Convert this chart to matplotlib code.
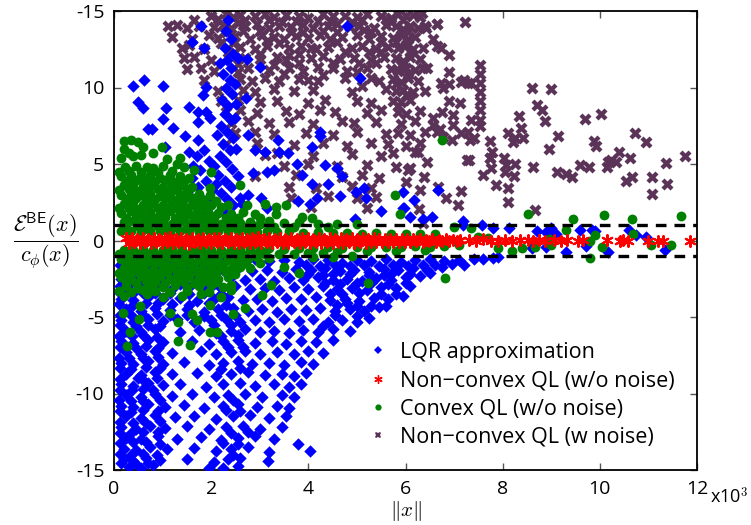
import numpy as np
import matplotlib
matplotlib.use("Agg")
import matplotlib.pyplot as plt
from matplotlib.ticker import FixedLocator, FixedFormatter
from matplotlib.lines import Line2D

plt.rcParams['font.family'] = ['Open Sans', 'DejaVu Sans']
plt.rcParams['mathtext.fontset'] = 'cm'

# ---------------- data (x in thousands) ----------------
legend_labels = ["LQR approximation", "Non\u2212convex QL (w/o noise)",
                 "Convex QL (w/o noise)", "Non\u2212convex QL (w noise)"]
x_ticks = [0, 2, 4, 6, 8, 10, 12]
x_tick_labels = ["0", "2", "4", "6", "8", "10", "12"]
y_ticks = [-15, -10, -5, 0, 5, 10, 15]
y_tick_labels = ["-15", "-10", "-5", "0", "5", "10", "-15"]
band_levels = [-1, 1]

noise_pts = [
    (2.0,14.7),(2.3,14.8),(2.45,14.6),(2.6,14.75),(2.9,14.65),(3.1,14.8),(3.3,14.6),(3.55,14.75),(3.8,14.7),(4.0,14.55),
    (4.3,14.8),(4.5,14.65),(4.75,14.7),(5.0,14.6),(5.2,14.8),(5.5,14.7),(5.7,14.55),(5.85,14.8),(6.0,14.65),(6.15,14.75),(6.3,14.6),
    (1.12,14.0),(1.3,14.1),(1.5,13.9),(1.75,14.05),(2.05,13.95),(2.25,14.1),(2.4,13.9),(2.7,14.0),(2.95,14.15),(3.2,13.9),
    (3.4,14.05),(3.65,13.95),(3.9,14.1),(4.1,13.9),(4.4,14.0),(4.6,14.15),(4.85,13.95),(5.05,14.05),(5.35,13.9),(5.6,14.1),
    (5.8,14.0),(5.95,13.85),(6.1,14.05),(6.25,13.9),(6.4,14.0),(6.65,14.15),
    (1.2,13.3),(1.6,13.2),(1.95,13.4),(2.15,13.25),(2.5,13.35),(2.8,13.2),(3.05,13.4),(3.3,13.3),(3.5,13.15),(3.75,13.35),
    (4.0,13.25),(4.25,13.4),(4.45,13.2),(4.7,13.3),(5.0,13.45),(5.25,13.2),(5.5,13.35),(5.75,13.25),(5.9,13.4),(6.05,13.2),
    (6.2,13.3),(6.57,13.2),
    (1.4,12.6),(1.55,12.8),(1.85,12.5),(2.6,12.65),(2.9,12.5),(3.15,12.7),(3.6,12.55),(3.85,12.7),(4.15,12.5),(4.4,12.65),
    (4.9,12.55),(5.1,12.7),(5.4,12.5),(5.65,12.65),(5.85,12.55),(6.0,12.75),(6.15,12.5),(6.35,12.6),(6.74,12.56),(6.64,12.7),
    (1.45,11.9),(1.65,12.0),(2.0,11.8),(2.7,11.95),(3.0,11.85),(3.35,12.0),(3.55,11.8),(4.05,11.9),(4.3,12.05),(4.65,11.85),
    (4.95,11.95),(5.3,11.8),(5.55,12.0),(5.8,11.9),(5.95,11.75),(6.1,12.0),(6.3,11.85),(6.9,12.1),
    (1.5,11.2),(1.8,11.3),(2.05,11.1),(2.75,11.25),(3.2,11.15),(3.6,11.3),(3.9,11.1),(4.5,11.25),(4.8,11.1),(5.2,11.3),
    (5.7,11.2),(5.85,11.05),(6.0,11.3),(6.2,11.15),(6.45,11.25),(6.9,11.0),(7.53,11.5),(7.53,10.9),
    (1.85,10.5),(2.6,10.55),(2.85,10.4),(3.1,10.6),(3.4,10.45),(3.8,10.55),(4.2,10.4),(4.75,10.6),(5.45,10.45),(5.75,10.55),
    (5.9,10.35),(6.05,10.6),(6.25,10.45),(6.74,10.3),(7.14,10.38),(7.21,10.5),(7.29,10.27),(7.35,10.3),(7.53,10.3),(6.9,10.2),
    (2.15,9.8),(2.65,9.85),(2.9,9.7),(3.3,9.9),(3.7,9.75),(4.1,9.85),(4.9,9.7),(5.6,9.9),(5.8,9.75),(5.95,9.85),
    (6.15,9.7),(6.4,9.8),(6.78,9.95),(7.53,9.7),
    (2.2,9.1),(2.55,9.2),(3.0,9.05),(3.35,9.15),(4.0,9.0),(4.35,9.2),(5.0,9.1),(5.3,9.0),(5.75,9.15),(5.9,9.05),
    (6.1,9.2),(6.9,9.1),(7.12,8.97),(7.53,9.1),
    (2.3,8.4),(2.6,8.5),(2.95,8.35),(3.55,8.45),(3.8,8.3),(4.25,8.5),(4.55,8.4),(5.2,8.35),(5.5,8.5),(5.85,8.4),
    (6.0,8.25),(6.3,8.45),(6.76,8.42),(6.97,8.2),(7.53,8.5),
    (2.4,7.7),(2.75,7.8),(3.2,7.65),(3.6,7.75),(4.1,7.6),(4.7,7.8),(4.95,7.65),(5.4,7.75),(5.9,7.6),(6.2,7.8),
    (6.57,7.99),(6.57,7.55),(6.97,7.56),(7.35,7.88),(7.53,7.9),(7.53,7.5),(6.7,7.3),
    (2.5,7.0),(2.9,7.1),(3.3,6.95),(3.95,7.05),(4.5,6.9),(5.0,7.1),(5.6,6.95),(5.85,7.05),(6.1,6.9),(6.4,7.1),
    (6.78,6.75),(7.15,7.0),(7.29,7.11),(6.64,7.1),
    (2.3,6.3),(2.95,6.4),(3.7,6.25),(4.3,6.35),(4.8,6.2),(5.3,6.4),(5.65,6.3),(6.0,6.2),(6.3,6.35),(6.95,6.57),
    (7.41,6.68),(7.33,6.57),(7.74,6.5),
    (3.1,5.6),(3.35,5.7),(4.1,5.55),(4.9,5.65),(5.5,5.5),(5.75,5.7),(6.19,5.8),(6.25,5.8),(7.79,5.8),
    (3.5,4.9),(4.0,5.0),(4.6,4.85),(5.2,4.95),(5.8,4.8),(6.05,4.6),(6.45,5.11),(7.26,5.26),(7.3,5.27),(7.74,5.37),
    (2.9,4.2),(3.75,4.3),(4.7,4.15),(5.1,4.25),(5.45,4.1),(6.01,3.85),(6.09,4.72),(6.38,4.13),(7.75,4.72),(7.6,4.28),
    (3.6,3.5),(4.15,3.4),(4.9,3.55),(5.3,3.45),(6.3,3.3),(6.67,3.52),(7.87,3.63),(7.14,3.26),
    (3.65,2.8),(4.4,2.9),(5.0,2.75),(5.4,2.85),(6.83,2.76),(7.09,2.32),
    (4.05,2.2),(5.2,2.1),(6.28,2.06),(6.37,1.12),
    (6.33,14.85),(6.65,14.15),(7.22,14.3),(6.43,13.9),(8.61,10.0),(9.0,9.9),(8.70,8.86),(8.80,8.53),(8.87,7.81),
    (8.34,8.16),(8.37,7.37),(8.11,7.0),(8.25,6.72),(8.41,6.72),(8.22,6.46),(7.74,5.37),(8.02,5.37),(8.07,4.93),
    (8.25,4.98),(8.05,4.5),(8.24,4.24),(8.11,3.41),(8.11,2.54),(8.63,4.78),(9.14,6.83),(8.96,5.96),(9.12,4.5),
    (9.30,4.33),(9.43,4.17),(9.59,4.93),(9.78,4.82),(9.70,7.94),(10.02,8.25),(9.88,6.5),(9.92,6.2),(10.14,4.82),
    (10.17,5.15),(10.24,5.26),(10.34,5.11),(10.39,5.8),(10.53,3.91),(10.67,4.13),(10.63,5.41),(10.72,7.05),
    (10.96,6.46),(11.08,4.17),(11.08,3.04),(11.37,5.09),(11.38,3.69),(11.75,5.54),(8.66,2.0),
    (5.7,14.3),(5.95,14.4),(6.05,13.6),(5.8,13.0),(6.1,12.3),(5.9,11.5),(6.05,10.9),(5.8,10.2),(6.0,9.5),(5.85,8.8),
    (2.7,14.4),(3.45,14.3),(4.2,14.35),(4.9,14.3),(3.0,13.7),(3.9,13.6),(4.6,13.65),(5.3,13.6),(2.2,12.9),(3.4,12.9),
    (4.6,12.95),(5.25,12.3),(3.8,12.2),(2.35,12.3),(4.5,11.6),(3.3,11.5),(5.05,11.6),(2.55,11.0),(4.3,10.8),(5.1,10.1),
    (1.65,14.4),(2.15,14.45),(2.55,14.2),(3.2,14.4),(3.75,14.35),(4.45,14.35),(5.1,14.4),(5.6,14.45),(2.3,13.6),(2.65,13.7),
    (3.15,13.05),(3.65,13.6),(4.3,13.7),(5.15,13.75),(5.5,13.0),(2.45,12.9),(3.0,12.2),(3.6,12.1),(4.05,12.6),(4.75,12.3),
    (5.5,12.3),(2.55,11.55),(3.8,11.6),(4.2,11.35),(5.4,11.6),(6.35,11.3),(3.5,10.9),(4.0,10.5),(5.0,11.0),(5.3,10.6),
]

lqr_upper = [
    (2.35,14.4),(2.3,13.7),(2.4,13.2),(2.28,12.6),(2.45,12.2),(2.33,11.8),(2.4,11.3),(2.25,10.9),(2.38,10.5),(2.3,10.0),
    (2.42,9.6),(2.22,9.2),(2.35,8.8),(2.28,8.3),(2.4,7.9),(2.2,7.5),(2.32,7.1),(2.45,6.7),(2.25,6.3),(2.38,5.9),
    (2.18,5.5),(2.3,5.1),(2.42,4.7),(2.15,4.3),(2.28,3.9),(2.4,3.5),(2.2,3.1),(2.33,2.7),(2.45,2.3),(2.25,1.9),
    (2.38,1.5),(2.5,1.2),(2.5,8.0),(2.52,6.0),(2.12,6.9),(2.1,3.7),(2.55,4.2),(2.05,4.9),(2.6,2.8),(2.0,2.5),
    (2.5,10.2),(2.18,11.6),
    (1.55,5.8),(1.7,5.5),(1.85,5.9),(1.62,4.9),(1.78,4.6),(1.95,5.2),(1.6,4.1),(1.9,3.9),(1.72,3.5),(2.02,3.3),
    (1.8,2.8),(1.65,2.5),(1.95,2.2),(1.5,3.2),(1.85,1.8),
    (0.40,10.1),(0.62,10.5),(1.0,10.1),(0.5,9.07),(0.6,8.64),(1.08,8.64),(1.0,7.94),(0.69,7.27),(0.79,7.27),(1.22,7.37),
    (1.46,6.83),(1.55,8.7),(1.72,8.42),(1.73,7.72),(1.72,6.57),(1.89,8.4),(1.98,7.99),(1.9,10.05),(1.84,9.5),(1.6,13.0),
    (1.86,12.6),(1.8,14.0),(2.56,11.9),(2.73,11.85),(3.0,11.36),(2.72,9.3),(2.52,8.9),(2.76,6.9),(2.9,5.92),(3.11,5.8),
    (3.38,6.57),(3.4,5.8),(3.59,5.7),(3.14,4.5),(3.3,4.6),(3.76,4.98),(3.86,4.28),(4.07,6.13),(4.24,7.11),(4.24,6.8),
    (4.34,4.93),(4.58,4.72),(4.7,4.2),(5.06,10.6),(4.79,14.0),(4.07,3.7),(4.17,2.8),(4.4,3.7),(4.66,2.9),(4.98,3.2),
    (5.15,3.4),(5.18,2.8),(5.95,2.1),(5.5,1.9),(4.96,1.4),(4.03,2.4),(3.78,2.6),(3.15,2.1),(3.02,2.8),(2.75,3.0),
    (2.63,2.4),(2.86,4.4),(1.05,6.13),
    (5.95,3.2),(6.17,2.65),(5.97,2.1),(6.1,1.55),(6.37,1.4),(6.55,1.55),(6.67,3.3),(7.18,1.3),(7.18,1.0),(7.58,1.0),
    (7.8,0.8),(8.14,0.8),(8.7,0.6),(8.9,0.55),(9.0,0.8),(9.1,0.45),(9.6,0.7),(9.84,0.7),(9.9,0.6),(10.6,0.7),
    (10.75,0.35),(10.95,0.2),(9.3,-0.73),(9.71,-0.35),(10.17,-0.73),(11.34,-0.62),(8.6,-0.5),(8.9,-0.45),
]

lqr_lower = [
    (0.2,-1.3),(0.5,-1.4),(0.8,-1.2),(1.1,-1.35),(1.4,-1.25),(1.7,-1.4),(2.0,-1.2),(2.3,-1.3),(2.6,-1.45),(2.9,-1.2),
    (3.2,-1.35),(3.5,-1.25),(3.8,-1.4),(4.1,-1.2),(4.4,-1.3),(4.7,-1.45),(5.0,-1.25),(5.3,-1.35),(5.6,-1.2),(5.9,-1.4),
    (6.2,-1.3),(6.5,-1.2),(6.8,-1.35),(7.1,-1.25),(7.4,-1.2),(7.8,-1.15),
    (0.3,-1.9),(0.65,-2.0),(0.95,-1.8),(1.3,-1.95),(1.6,-1.85),(1.9,-2.05),(2.25,-1.9),(2.55,-1.8),(2.85,-2.0),(3.15,-1.9),
    (3.45,-2.05),(3.75,-1.85),(4.05,-1.95),(4.35,-1.8),(4.65,-2.0),(4.95,-1.9),(5.25,-2.05),(5.55,-1.85),(5.85,-1.95),
    (6.15,-1.8),(6.45,-1.9),(6.75,-1.75),
    (0.15,-2.5),(0.45,-2.6),(0.75,-2.4),(1.05,-2.55),(1.4,-2.45),(1.75,-2.65),(2.1,-2.5),(2.4,-2.4),(2.7,-2.6),(3.0,-2.5),
    (3.3,-2.65),(3.6,-2.45),(3.9,-2.55),(4.2,-2.4),(4.5,-2.6),(4.8,-2.5),(5.1,-2.65),(5.4,-2.45),(5.7,-2.55),(6.0,-2.4),
    (6.3,-2.3),
    (0.25,-3.1),(0.55,-3.2),(0.85,-3.0),(1.2,-3.15),(1.55,-3.05),(1.9,-3.25),(2.2,-3.1),(2.5,-3.0),(2.8,-3.2),(3.1,-3.1),
    (3.4,-3.25),(3.7,-3.05),(4.0,-3.15),(4.3,-3.0),(4.6,-3.2),(4.9,-3.1),(5.2,-3.25),(5.5,-3.05),(5.8,-3.1),(6.1,-2.95),
    (0.15,-3.8),(0.4,-3.9),(0.7,-3.7),(1.0,-3.85),(1.35,-3.75),(1.7,-3.95),(2.05,-3.8),(2.35,-3.7),(2.65,-3.9),(2.95,-3.8),
    (3.25,-3.95),(3.55,-3.75),(3.85,-3.85),(4.15,-3.7),(4.45,-3.9),(4.75,-3.8),(5.05,-3.95),(5.35,-3.75),(5.65,-3.85),(5.95,-3.6),
    (0.25,-4.5),(0.55,-4.6),(0.85,-4.4),(1.15,-4.55),(1.5,-4.45),(1.85,-4.65),(2.15,-4.5),(2.45,-4.4),(2.75,-4.6),(3.05,-4.5),
    (3.35,-4.65),(3.65,-4.45),(3.95,-4.55),(4.25,-4.4),(4.55,-4.6),(4.85,-4.5),(5.15,-4.6),(5.45,-4.35),
    (0.15,-5.2),(0.4,-5.3),(0.7,-5.1),(1.0,-5.25),(1.3,-5.15),(1.65,-5.35),(2.0,-5.2),(2.3,-5.1),(2.6,-5.3),(2.9,-5.2),
    (3.2,-5.35),(3.5,-5.15),(3.8,-5.25),(4.1,-5.1),(4.4,-5.3),(4.7,-5.2),(5.0,-5.3),(5.25,-5.05),
    (0.25,-5.9),(0.55,-6.0),(0.85,-5.8),(1.35,-5.95),(1.75,-5.85),(2.1,-6.05),(2.4,-5.9),(2.7,-5.8),(3.0,-6.0),(3.3,-5.9),
    (3.6,-6.05),(3.9,-5.85),(4.2,-5.95),(4.5,-5.8),(4.85,-5.9),
    (0.15,-6.6),(0.4,-6.7),(0.7,-6.5),(1.0,-6.65),(1.6,-6.55),(1.95,-6.75),(2.25,-6.6),(2.55,-6.5),(2.9,-6.7),(3.25,-6.6),
    (3.55,-6.75),(3.85,-6.55),(4.15,-6.65),(4.5,-6.5),
    (0.25,-7.3),(0.55,-7.4),(0.85,-7.2),(1.2,-7.35),(1.8,-7.25),(2.1,-7.45),(2.4,-7.3),(2.7,-7.2),(3.0,-7.4),(3.35,-7.3),
    (3.7,-7.45),(4.0,-7.25),(4.3,-7.35),
    (0.15,-8.0),(0.4,-8.1),(0.7,-7.9),(1.0,-8.05),(1.45,-7.95),(1.95,-8.15),(2.25,-8.0),(2.55,-7.9),(2.85,-8.1),(3.2,-8.0),
    (3.5,-8.15),(3.85,-7.95),(4.1,-8.05),
    (0.25,-8.7),(0.55,-8.8),(0.85,-8.6),(1.2,-8.75),(1.7,-8.65),(2.1,-8.85),(2.4,-8.7),(2.75,-8.6),(3.1,-8.8),(3.45,-8.7),
    (3.7,-8.85),(3.95,-8.65),
    (0.15,-9.4),(0.4,-9.5),(0.7,-9.3),(1.0,-9.45),(1.35,-9.35),(1.9,-9.55),(2.25,-9.4),(2.6,-9.3),(2.9,-9.5),(3.3,-9.4),
    (3.6,-9.55),(3.85,-9.35),
    (0.25,-10.1),(0.55,-10.2),(0.85,-10.0),(1.2,-10.15),(1.6,-10.05),(2.05,-10.25),(2.35,-10.1),(2.7,-10.0),(3.05,-10.2),
    (3.45,-10.1),(3.7,-10.25),
    (0.15,-10.8),(0.4,-10.9),(0.7,-10.7),(1.05,-10.85),(1.45,-10.75),(1.85,-10.95),(2.25,-10.8),(2.55,-10.7),(2.95,-10.9),
    (3.35,-10.8),(3.6,-10.95),
    (0.25,-11.5),(0.55,-11.6),(0.85,-11.4),(1.25,-11.55),(1.65,-11.45),(2.1,-11.65),(2.45,-11.5),(2.8,-11.4),(3.2,-11.6),(3.55,-11.5),
    (0.15,-12.2),(0.45,-12.3),(0.75,-12.1),(1.05,-12.25),(1.5,-12.15),(1.95,-12.35),(2.3,-12.2),(2.65,-12.1),(3.0,-12.3),(3.45,-12.2),
    (0.25,-12.9),(0.55,-13.0),(0.9,-12.8),(1.3,-12.95),(1.8,-12.85),(2.2,-13.05),(2.55,-12.9),(2.9,-12.8),(3.3,-13.0),(3.79,-13.3),
    (0.2,-13.6),(0.45,-13.7),(0.75,-13.5),(1.1,-13.65),(1.65,-13.55),(2.1,-13.75),(2.4,-13.6),(2.75,-13.5),(3.2,-13.8),(4.03,-13.76),
    (0.2,-14.3),(0.4,-14.4),(0.65,-14.2),(0.95,-14.35),(1.5,-14.25),(2.05,-14.45),(2.35,-14.3),(2.6,-14.2),(3.16,-14.4),
    (0.3,-14.8),(0.55,-14.9),(0.8,-14.7),(1.95,-14.85),(2.25,-14.9),(2.55,-14.75),
    (0.3,-2.2),(0.6,-3.4),(0.35,-4.9),(0.6,-6.2),(0.3,-7.7),(0.5,-9.0),(0.35,-10.5),(0.65,-11.9),(0.4,-13.2),(0.9,-4.1),
    (0.9,-7.0),(0.8,-9.8),(0.2,-6.0),(4.5,-2.2),(5.0,-2.8),(5.5,-3.5),(4.7,-3.5),(5.3,-4.3),(4.3,-5.6),(4.8,-4.1),
    (5.7,-2.2),(6.0,-2.8),(6.6,-1.6),(7.2,-1.6),(7.6,-1.2),(7.9,-1.1),
]

lqr_dense = [
    (0.12,-1.6),(0.4,-1.65),(0.68,-1.55),(0.9,-1.7),(0.12,-2.2),(0.6,-2.15),(0.88,-2.25),(0.35,-2.8),(0.6,-2.85),(0.9,-2.75),
    (0.12,-3.0),(0.12,-3.45),(0.38,-3.5),(0.85,-3.45),(0.1,-4.15),(0.4,-4.2),(0.65,-4.1),(0.12,-4.85),(0.6,-4.9),(0.88,-4.8),
    (0.12,-5.55),(0.45,-5.6),(0.7,-5.5),(0.95,-5.6),(0.38,-6.25),(0.88,-6.3),(0.1,-6.25),(0.12,-6.95),(0.45,-7.0),(0.65,-6.9),
    (0.1,-7.65),(0.6,-7.7),(0.9,-7.6),(0.12,-8.35),(0.35,-8.4),(0.65,-8.3),(0.95,-8.35),(0.12,-9.05),(0.6,-9.1),(0.88,-9.0),
    (0.12,-9.75),(0.38,-9.8),(0.6,-9.7),(0.1,-10.45),(0.6,-10.5),(0.95,-10.4),(0.12,-11.15),(0.35,-11.2),(0.6,-11.1),(0.9,-11.15),
    (0.12,-11.85),(0.4,-11.9),(0.95,-11.8),(0.12,-12.55),(0.35,-12.6),(0.6,-12.5),(0.9,-12.5),(0.12,-13.25),(0.65,-13.2),(0.95,-13.3),
    (0.12,-13.95),(0.35,-14.0),(0.6,-13.95),(0.88,-14.0),(0.15,-14.55),(0.45,-14.6),(0.7,-14.55),
    (1.2,-1.65),(1.55,-1.6),(1.85,-1.65),(2.15,-1.6),(1.25,-2.2),(1.6,-2.25),(1.95,-2.2),(1.35,-2.85),(1.7,-2.8),(2.05,-2.85),
    (1.15,-3.45),(1.55,-3.5),(1.85,-3.45),(2.2,-3.5),(1.2,-4.15),(1.55,-4.2),(1.95,-4.1),(2.3,-4.2),(1.15,-4.9),(1.5,-4.85),
    (1.85,-4.95),(2.2,-4.85),(2.5,-4.9),(2.05,-5.55),(2.4,-5.5),(2.2,-6.25),(2.55,-6.2),(2.35,-6.95),(2.65,-6.95),(2.2,-8.4),
    (2.6,-8.35),(2.45,-10.45),(2.3,-11.1),(2.6,-11.15),(2.4,-12.55),(2.75,-12.5),(2.25,-13.25),(2.55,-13.3),(2.45,-14.0),
    (3.95,-1.6),(4.25,-1.65),(4.55,-1.6),(4.85,-1.65),(5.15,-1.6),(5.45,-1.65),(5.75,-1.6),(6.05,-1.65),(6.35,-1.6),(6.95,-1.55),
    (4.0,-2.2),(4.3,-2.25),(4.85,-2.2),(5.25,-2.25),(5.55,-2.25),(6.1,-2.2),(6.5,-2.1),(4.35,-2.8),(4.65,-2.85),(5.3,-2.8),
    (5.65,-2.85),(4.45,-3.5),(5.05,-3.45),(5.8,-3.5),(4.6,-4.2),(5.0,-4.25),(5.6,-4.25),(4.55,-4.9),(5.0,-4.95),
]

convex_pts = [
    (0.2,6.5),(0.35,6.6),(0.5,6.45),(0.2,6.0),(0.6,6.1),(0.98,6.13),(0.15,5.4),(0.4,5.5),(1.1,5.3),(1.36,5.37),
    (0.23,4.8),(0.45,4.9),(0.67,4.8),(0.8,4.75),(1.0,4.9),(1.3,5.0),(1.45,4.8),
    (0.15,4.2),(0.35,4.3),(0.55,4.15),(0.75,4.25),(0.95,4.1),(1.15,4.3),(1.35,4.2),(1.55,4.1),(2.0,4.5),
    (0.2,3.6),(0.4,3.7),(0.6,3.55),(0.8,3.65),(1.0,3.5),(1.2,3.7),(1.4,3.6),(1.6,3.5),(2.6,3.6),(1.98,3.4),
    (0.15,3.0),(0.35,3.1),(0.55,2.95),(0.75,3.05),(0.95,2.9),(1.15,3.1),(1.35,3.0),(1.55,2.9),(1.75,3.05),(1.98,2.95),
    (0.2,2.4),(0.4,2.5),(0.6,2.35),(0.8,2.45),(1.0,2.3),(1.2,2.5),(1.4,2.4),(1.6,2.3),(1.8,2.45),(2.0,2.35),
    (2.2,2.2),(2.35,2.3),(2.73,2.3),(3.1,2.4),(3.54,2.3),(3.34,2.2),
    (0.15,1.8),(0.35,1.9),(0.55,1.75),(0.75,1.85),(0.95,1.7),(1.15,1.9),(1.35,1.8),(1.55,1.7),(1.75,1.85),(1.95,1.75),
    (2.15,1.8),(2.4,1.7),(2.65,1.85),(2.9,1.75),(3.34,1.7),(3.86,1.56),(4.07,1.45),
    (0.2,1.2),(0.4,1.25),(0.6,1.15),(0.8,1.3),(1.0,1.2),(1.2,1.1),(1.4,1.25),(1.6,1.15),(1.8,1.3),(2.0,1.2),
    (2.2,1.1),(2.4,1.25),(2.6,1.15),(2.8,1.2),(3.0,1.1),(3.2,1.25),(3.5,1.15),(3.8,1.2),(4.2,1.1),(4.6,1.05),
    (5.0,1.1),(5.88,1.7),(5.78,2.97),
    (0.15,0.6),(0.35,0.65),(0.55,0.55),(0.75,0.6),(0.95,0.65),(1.15,0.55),(1.35,0.6),(1.55,0.65),(1.75,0.55),(1.95,0.6),
    (2.15,0.65),(2.35,0.55),(2.55,0.6),(2.75,0.6),(2.95,0.55),(3.15,0.6),(3.35,0.55),(3.6,0.6),(3.9,0.5),(4.2,0.55),
    (4.5,0.5),(4.8,0.5),(5.1,0.45),(5.4,0.5),(5.7,0.45),(6.0,0.4),(6.3,0.45),(6.6,0.4),(7.0,0.87),(7.34,0.8),
    (0.2,-0.6),(0.4,-0.65),(0.6,-0.55),(0.8,-0.6),(1.0,-0.65),(1.2,-0.55),(1.4,-0.6),(1.6,-0.65),(1.8,-0.55),(2.0,-0.6),
    (2.2,-0.65),(2.4,-0.55),(2.6,-0.6),(2.8,-0.55),(3.0,-0.6),(3.2,-0.5),(3.5,-0.55),(3.8,-0.5),(4.1,-0.5),(4.4,-0.45),
    (4.7,-0.5),(5.0,-0.45),(5.3,-0.45),(5.6,-0.4),(5.9,-0.4),(6.2,-0.35),(6.5,-0.4),(6.8,-0.35),(7.1,-0.3),(7.5,0.2),
    (7.7,0.15),
    (0.15,-1.2),(0.35,-1.25),(0.55,-1.15),(0.75,-1.3),(0.95,-1.2),(1.15,-1.1),(1.35,-1.25),(1.55,-1.15),(1.75,-1.3),(1.95,-1.2),
    (2.15,-1.1),(2.35,-1.25),(2.55,-1.15),(2.75,-1.2),(2.95,-1.1),(3.2,-1.15),(3.5,-1.7),(3.8,-2.1),(4.1,-1.1),(4.5,-1.05),
    (4.9,-1.0),
    (0.2,-1.8),(0.4,-1.85),(0.6,-1.75),(0.8,-1.9),(1.0,-1.8),(1.2,-1.7),(1.4,-1.85),(1.6,-1.75),(1.8,-1.9),(2.0,-1.8),
    (2.2,-1.7),(2.4,-1.85),(2.6,-1.75),(2.8,-1.8),
    (0.15,-2.4),(0.35,-2.5),(0.55,-2.35),(0.75,-2.45),(0.95,-2.3),(1.15,-2.5),(1.35,-2.4),(1.55,-2.3),(1.75,-2.45),(1.95,-2.35),
    (2.15,-2.5),(2.35,-2.4),(5.23,-2.8),
    (0.25,-3.0),(0.5,-3.1),(0.75,-2.95),(1.0,-3.05),(1.25,-2.9),(1.5,-3.1),(1.75,-3.0),(2.0,-2.9),(2.25,-3.05),(3.24,-2.9),
    (0.2,-3.6),(0.67,-3.5),(1.0,-3.7),(1.4,-3.6),(1.8,-3.5),(2.2,-3.7),(3.04,-3.56),
    (0.19,-4.76),(0.26,-6.9),(0.32,-5.98),(0.54,-4.3),(0.52,-5.1),(1.32,-6.6),(1.56,-6.8),(1.32,-5.3),(1.16,-4.76),(1.6,-4.8),
    (1.71,-5.2),(1.98,-6.0),(2.11,-6.0),(1.98,-4.2),(2.45,-4.8),(2.69,-4.4),(6.81,-2.47),(9.79,-1.16),
    (8.53,1.71),(9.44,1.38),(10.08,1.67),(10.66,1.38),(11.68,1.6),(9.3,0.66),(9.8,-0.06),(10.69,0.4),(8.96,0.1),(6.76,6.57),
    (9.9,0.36),(10.05,-0.4),(11.06,-0.3),(11.47,-0.3),(8.66,-0.4),(9.0,-0.3),(7.9,-0.5),(8.2,-0.7),(8.4,-0.5),
]

convex_dense = [
    (0.25,0.9),(0.5,0.95),(0.7,0.85),(0.9,0.95),(1.1,0.9),(1.3,0.85),(1.5,0.95),(1.7,0.9),(1.9,0.85),(2.1,0.95),
    (2.3,0.9),(2.5,0.85),(2.7,0.9),(2.9,0.95),(3.3,0.9),(3.7,0.85),(4.4,0.85),
    (0.25,1.5),(0.45,1.55),(0.65,1.45),(0.85,1.5),(1.05,1.55),(1.25,1.45),(1.45,1.5),(1.65,1.55),(1.85,1.45),(2.05,1.5),
    (2.3,1.5),(2.55,1.45),(3.0,1.45),
    (0.1,2.1),(0.3,2.15),(0.5,2.05),(0.7,2.1),(0.9,2.15),(1.1,2.05),(1.3,2.1),(1.5,2.15),(1.7,2.05),(1.9,2.1),(2.1,2.6),
    (0.25,2.7),(0.45,2.75),(0.65,2.65),(0.85,2.7),(1.05,2.75),(1.25,2.65),(1.45,2.7),(1.65,2.75),(1.85,2.65),
    (0.1,3.3),(0.3,3.35),(0.5,3.25),(0.7,3.3),(0.9,3.35),(1.1,3.25),(1.3,3.3),(1.5,3.35),
    (0.25,3.9),(0.45,3.95),(0.65,3.85),(0.85,3.9),(1.05,3.95),(1.25,3.85),(1.45,3.9),
    (0.1,4.5),(0.3,4.55),(0.55,4.45),(0.9,4.5),(1.2,4.55),(1.65,4.6),(0.3,5.75),(0.55,5.6),(0.8,5.7),
    (0.1,-0.9),(0.3,-0.95),(0.5,-0.85),(0.7,-0.9),(0.9,-0.95),(1.1,-0.85),(1.3,-0.9),(1.5,-0.95),(1.7,-0.85),(1.9,-0.9),
    (2.1,-0.95),(2.3,-0.85),(2.5,-0.9),(2.7,-0.95),(2.9,-0.85),(3.1,-0.9),(3.4,-0.85),(3.7,-0.85),(4.0,-0.8),(4.3,-0.8),
    (4.6,-0.75),(5.2,-0.7),(5.8,-0.7),(6.4,-0.6),
    (0.25,-1.5),(0.45,-1.55),(0.65,-1.45),(0.85,-1.5),(1.05,-1.55),(1.25,-1.45),(1.45,-1.5),(1.65,-1.55),(1.85,-1.45),(2.05,-1.5),
    (2.25,-1.55),(2.5,-1.5),(2.7,-1.45),(3.0,-1.5),
    (0.1,-2.1),(0.3,-2.15),(0.5,-2.05),(0.7,-2.1),(0.9,-2.15),(1.1,-2.05),(1.3,-2.1),(1.5,-2.15),(1.7,-2.05),(1.9,-2.1),
    (2.1,-2.15),(2.3,-2.05),(2.5,-2.2),
    (0.25,-2.7),(0.45,-2.75),(0.65,-2.65),(0.85,-2.7),(1.05,-2.75),(1.25,-2.65),(1.45,-2.7),(1.65,-2.75),(1.85,-2.65),(2.1,-2.7),
    (2.4,-2.9),
    (0.1,-3.3),(0.35,-3.35),(0.6,-3.25),(0.85,-3.3),(1.15,-3.35),(1.5,-3.3),(1.95,-3.35),(2.4,-3.25),
]

nonconvex_pts = [
    (0.25,0.14),(0.37,0.18),(0.47,0.1),(0.59,0.16),(0.7,0.12),(0.82,0.19),(0.93,0.11),(1.04,0.15),(1.15,0.2),(1.27,0.12),
    (1.38,0.16),(1.49,0.1),(1.61,0.18),(1.72,0.13),(1.83,0.17),(1.95,0.11),(2.06,0.19),(2.17,0.14),(2.29,0.1),(2.4,0.17),
    (2.51,0.13),(2.63,0.18),(2.74,0.11),(2.85,0.15),(2.97,0.2),(3.08,0.12),(3.19,0.16),(3.31,0.1),(3.42,0.17),(3.53,0.13),
    (3.65,0.18),(3.76,0.11),(3.87,0.15),(3.99,0.19),(4.1,0.12),(4.21,0.16),(4.33,0.1),(4.44,0.17),(4.55,0.13),(4.67,0.15),
    (4.78,0.11),(4.89,0.16),(5.01,0.12),(5.12,0.14),(5.23,0.1),(5.35,0.15),(5.46,0.11),(5.57,0.13),(5.69,0.09),(5.8,0.12),
    (5.92,0.08),(6.04,0.11),(6.16,0.07),(6.29,0.1),(6.42,0.06),(6.55,0.08),(6.69,0.05),(6.83,0.07),(6.98,0.04),(7.12,0.06),
    (0.3,-0.15),(0.42,-0.11),(0.53,-0.18),(0.64,-0.12),(0.76,-0.16),(0.87,-0.1),(0.98,-0.19),(1.1,-0.13),(1.21,-0.17),(1.32,-0.11),
    (1.44,-0.15),(1.55,-0.2),(1.66,-0.12),(1.78,-0.16),(1.89,-0.1),(2.0,-0.18),(2.12,-0.13),(2.23,-0.17),(2.34,-0.11),(2.46,-0.15),
    (2.57,-0.19),(2.68,-0.12),(2.8,-0.16),(2.91,-0.1),(3.02,-0.18),(3.14,-0.13),(3.25,-0.17),(3.36,-0.11),(3.48,-0.15),(3.59,-0.19),
    (3.7,-0.12),(3.82,-0.16),(3.93,-0.1),(4.04,-0.17),(4.16,-0.13),(4.27,-0.16),(4.38,-0.11),(4.5,-0.15),(4.61,-0.12),(4.72,-0.16),
    (4.84,-0.1),(4.95,-0.14),(5.06,-0.11),(5.18,-0.15),(5.29,-0.1),(5.4,-0.13),(5.52,-0.09),(5.63,-0.12),(5.75,-0.08),(5.86,-0.11),
    (5.98,-0.07),(6.1,-0.1),(6.22,-0.06),(6.35,-0.08),(6.48,-0.05),(6.62,-0.07),(6.76,-0.04),(6.9,-0.06),(7.05,-0.03),
    (7.3,0.05),(7.45,-0.05),(7.6,0.1),(7.75,0.0),(7.9,-0.05),(8.05,0.05),(8.2,0.0),(8.35,0.05),(8.52,0.05),(8.63,0.0),
    (8.75,0.05),(8.88,0.0),(9.05,0.05),(9.2,0.0),(9.32,0.05),(9.55,0.0),(9.65,0.05),(10.14,0.05),(10.41,0.0),(10.47,0.05),
    (10.58,0.0),(10.99,-0.05),(11.2,0.0),(11.3,0.0),(11.85,0.0),
]

# ---------------- plotting ----------------
fig = plt.figure(figsize=(7.51, 5.25), dpi=100)
ax = fig.add_axes([114/751, 1-470/525, (697-114)/751, (470-11)/525])

def arr(p):
    a = np.array(p, dtype=float)
    return a[:, 0], a[:, 1]

purple = '#5b3358'
blue = '#0000ff'
green = '#008000'
red = '#ff0000'

nx, ny = arr(noise_pts)
ax.scatter(nx, ny, marker='X', s=75, color=purple, linewidths=0, zorder=2)
lx, ly = arr(lqr_upper + lqr_lower + lqr_dense)
ax.scatter(lx, ly, marker='D', s=40, color=blue, linewidths=0, zorder=3)
cx, cy = arr(convex_pts + convex_dense)
ax.scatter(cx, cy, marker='o', s=50, color=green, linewidths=0, zorder=4)
rx, ry = arr(nonconvex_pts)
ax.scatter(rx, ry, marker=(6, 2, 0), s=60, color=red, linewidths=1.5, zorder=5)

for lv in band_levels:
    ax.axhline(lv, color='black', lw=2.4, ls=(0, (3.2, 2.4)), zorder=6)

ax.set_xlim(0, 12)
ax.set_ylim(-15, 15)
ax.xaxis.set_major_locator(FixedLocator(x_ticks))
ax.xaxis.set_major_formatter(FixedFormatter(x_tick_labels))
ax.yaxis.set_major_locator(FixedLocator(y_ticks))
ax.yaxis.set_major_formatter(FixedFormatter(y_tick_labels))
ax.tick_params(direction='in', length=5, width=1, color='#555555', top=True, right=True,
               labelsize=14, pad=7)
for sp in ax.spines.values():
    sp.set_linewidth(1.3)

fig.text(406/751, 1-511/525, r'$\|x\|$', fontsize=15, ha='center', va='center')
fig.text(46/751, 1-241/525, r'$\dfrac{\mathcal{E}^{\mathsf{BE}}(x)}{c_{\phi}(x)}$', fontsize=16,
         ha='center', va='center')
fig.text(710/751, 1-497/525, r'x10$^3$', fontsize=13, ha='left', va='center')

handles = [
    Line2D([], [], ls='none', marker='D', ms=4, color=blue, mew=0),
    Line2D([], [], ls='none', marker=(6, 2, 0), ms=6, color=red, mew=1),
    Line2D([], [], ls='none', marker='o', ms=4.5, color=green, mew=0),
    Line2D([], [], ls='none', marker='X', ms=5, color=purple, mew=0),
]
leg = ax.legend(handles, legend_labels, loc='upper left', bbox_to_anchor=(367/751, 1-342/525),
                bbox_transform=fig.transFigure, frameon=False, fontsize=15.5, handlelength=1.0,
                handletextpad=0.55, labelspacing=0.33, borderpad=0, borderaxespad=0)
leg.set_zorder(10)

fig.savefig('out.png', dpi=100)
